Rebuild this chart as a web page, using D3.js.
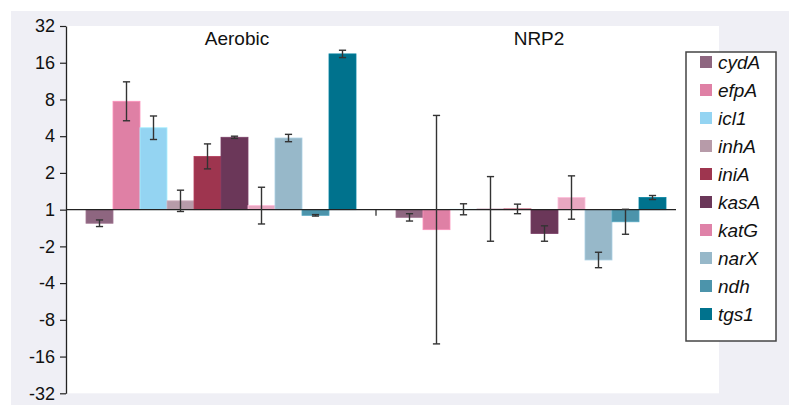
<!DOCTYPE html>
<html>
<head>
<meta charset="utf-8">
<script src="https://cdn.jsdelivr.net/npm/d3@7"></script>
<style>
  html, body { margin: 0; padding: 0; background: #fff; }
  svg { display: block; font-family: "Liberation Sans", Arial, Helvetica, sans-serif; }
</style>
</head>
<body>
<svg id="chart" width="800" height="416"></svg>
<script>
// ---- data ----
const groups = ["Aerobic", "NRP2"];
const genes = ["cydA", "efpA", "icl1", "inhA", "iniA", "kasA", "katG", "narX", "ndh", "tgs1"];
// values in log2 fold-change units (axis shows fold change)
const aerobicValues = [-0.37, 2.95, 2.23, 0.24, 1.45, 1.97, 0.11, 1.95, -0.155, 4.24];
const aerobicErrors = [0.09, 0.53, 0.32, 0.29, 0.34, 0.03, 0.5, 0.1, 0.02, 0.1];
const nrp2Values = [-0.21, -0.545, 0.01, 0.02, 0.02, -0.65, 0.33, -1.37, -0.33, 0.33];
const nrp2Errors = [0.1, 3.11, 0.15, 0.88, 0.13, 0.21, 0.59, 0.21, 0.34, 0.055];
const tickValues = [-5, -4, -3, -2, -1, 0, 1, 2, 3, 4, 5];
const tickLabels = ["-32", "-16", "-8", "-4", "-2", "1", "2", "4", "8", "16", "32"];
const barColors = ["#8e6680", "#df80a5", "#94d4f2", "#b79ba9", "#9e354f", "#6b3759", "#e8a7c1", "#97b8c9", "#4c94ab", "#00728d"];
const legendColors = ["#8e6680", "#df80a5", "#94d4f2", "#b79ba9", "#9e354f", "#6b3759", "#df82a8", "#97b8c9", "#4c94ab", "#00728d"];

const seriesByGroup = {
  "Aerobic": { values: aerobicValues, errors: aerobicErrors },
  "NRP2": { values: nrp2Values, errors: nrp2Errors }
};

// ---- layout ----
const svg = d3.select("#chart");
const plot = { left: 66, right: 719, top: 26, bottom: 393.3 };

svg.append("rect").attr("x", 11).attr("y", 11).attr("width", 778).attr("height", 394).attr("fill", "#efeff5");
svg.append("rect").attr("x", plot.left).attr("y", plot.top).attr("width", plot.right - plot.left).attr("height", plot.bottom - plot.top).attr("fill", "#ffffff");

const y = d3.scaleLinear().domain([-5, 5]).range([plot.bottom, plot.top]);
const x0 = d3.scaleBand().domain(groups).range([66, 686]);
const x1 = d3.scaleBand().domain(genes).range([20, x0.bandwidth() - 20]);

// group titles
const titleOffset = { "Aerobic": 16, "NRP2": 8 };
svg.selectAll("text.gtitle").data(groups).enter().append("text")
  .attr("class", "gtitle")
  .attr("x", d => x0(d) + x0.bandwidth() / 2 + titleOffset[d])
  .attr("y", 45)
  .attr("text-anchor", "middle")
  .attr("font-size", 19)
  .attr("fill", "#111")
  .text(d => d);

// bars
const records = [];
groups.forEach(g => {
  genes.forEach((gene, i) => {
    records.push({ group: g, gene, i, v: seriesByGroup[g].values[i], e: seriesByGroup[g].errors[i] });
  });
});

svg.append("g").selectAll("rect").data(records).enter().append("rect")
  .attr("x", d => x0(d.group) + x1(d.gene))
  .attr("width", x1.bandwidth())
  .attr("y", d => y(Math.max(0, d.v)))
  .attr("height", d => Math.abs(y(d.v) - y(0)))
  .attr("fill", d => barColors[d.i])
  .attr("stroke", d => d3.color(barColors[d.i]).brighter(0.35))
  .attr("stroke-width", 0.8);

// x baseline at fold change 1
const baseY = y(0);
svg.append("line").attr("x1", 66).attr("x2", 676).attr("y1", baseY).attr("y2", baseY)
  .attr("stroke", "#222").attr("stroke-width", 1.3);
svg.append("g").selectAll("line").data(groups.slice(1)).enter().append("line")
  .attr("x1", d => x0(d)).attr("x2", d => x0(d))
  .attr("y1", baseY).attr("y2", baseY + 6)
  .attr("stroke", "#222").attr("stroke-width", 1.2);

// error bars
const eb = svg.append("g").attr("stroke", "#333").attr("stroke-width", 1.4);
records.forEach(d => {
  const cx = x0(d.group) + x1(d.gene) + x1.bandwidth() / 2;
  const yt = y(d.v + d.e), yb = y(d.v - d.e);
  eb.append("line").attr("x1", cx).attr("x2", cx).attr("y1", yt).attr("y2", yb);
  eb.append("line").attr("x1", cx - 3.6).attr("x2", cx + 3.6).attr("y1", yt).attr("y2", yt);
  eb.append("line").attr("x1", cx - 3.6).attr("x2", cx + 3.6).attr("y1", yb).attr("y2", yb);
});

// y axis
const yAxis = d3.axisLeft(y).tickValues(tickValues).tickSize(6).tickSizeOuter(0)
  .tickFormat((d, i) => tickLabels[i]);
const ya = svg.append("g").attr("transform", `translate(${plot.left},0)`).call(yAxis);
ya.select(".domain").attr("stroke", "#222").attr("stroke-width", 1.3);
ya.selectAll(".tick line").attr("stroke", "#222").attr("stroke-width", 1.2);
ya.selectAll(".tick text").attr("font-size", 18).attr("fill", "#111").attr("x", -11)
  .attr("font-family", "Liberation Sans, Arial, sans-serif");

// legend
const lg = svg.append("g");
lg.append("rect").attr("x", 686).attr("y", 52).attr("width", 90).attr("height", 289)
  .attr("fill", "#fff").attr("stroke", "#444").attr("stroke-width", 1.5);
const items = lg.selectAll("g.item").data(genes).enter().append("g")
  .attr("transform", (d, i) => `translate(0, ${62 + i * 28})`);
items.append("rect").attr("x", 700).attr("y", -6).attr("width", 12).attr("height", 12)
  .attr("fill", (d, i) => legendColors[i]);
items.append("text").attr("x", 718).attr("y", 7)
  .attr("font-size", 19).attr("font-style", "italic").attr("fill", "#111")
  .text(d => d);
</script>
</body>
</html>
